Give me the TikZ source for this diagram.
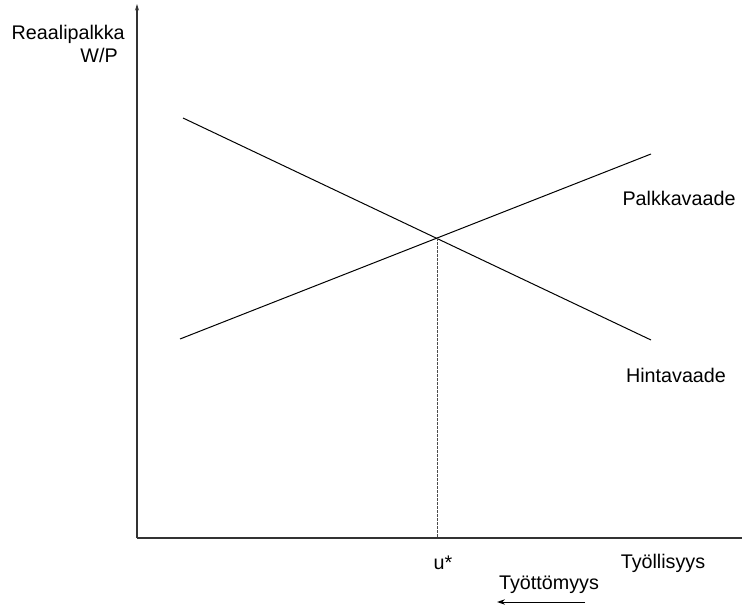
\documentclass[tikz,border=0pt]{standalone}
\usepackage{fontspec}
\setmainfont{Liberation Sans}
\usetikzlibrary{arrows.meta}
\begin{document}
\begin{tikzpicture}[x=0.75pt,y=-0.75pt,
  axis/.style={line width=0.8pt,black!80},
  curve/.style={line width=0.75pt,black},
  guide/.style={line width=0.5pt,black!70,dash pattern=on 2pt off 1pt},
  lbl/.style={font=\fontsize{14.8pt}{17pt}\selectfont,inner sep=0pt}]
\useasboundingbox (0,0) rectangle (742,605);
% axes
\coordinate (O) at (137,538);
\coordinate (Ytop) at (137,4);
\coordinate (Xend) at (742,538);
\draw[axis,-{Stealth[length=5pt,width=3pt]}] (O) -- (Ytop);
\draw[axis] (O) -- (Xend);
% curves
\coordinate (H1) at (183,118);
\coordinate (H2) at (651,340);
\coordinate (P1) at (180,339);
\coordinate (P2) at (651,154);
\draw[curve] (H1) -- (H2);
\draw[curve] (P1) -- (P2);
% equilibrium
\coordinate (E) at (437,238);
\coordinate (Ef) at (437,538);
\draw[guide] (E) -- (Ef);
% labels
\node[lbl,anchor=east] (yl1) at (125,34) {Reaalipalkka};
\node[lbl,anchor=east] (yl2) at (118,55) {W/P};
\node[lbl] (pv) at (679,198) {Palkkavaade};
\node[lbl] (hv) at (676,375) {Hintavaade};
\node[lbl] (us) at (443,563) {u*};
\node[lbl] (ty) at (663,563) {Työllisyys};
\node[lbl] (tt) at (549,585) {Työttömyys};
\coordinate (A1) at (585,602);
\coordinate (A2) at (497,602);
\draw[line width=0.75pt,-{Stealth[length=6pt,width=4pt]}] (A1) -- (A2);
\end{tikzpicture}
\end{document}
